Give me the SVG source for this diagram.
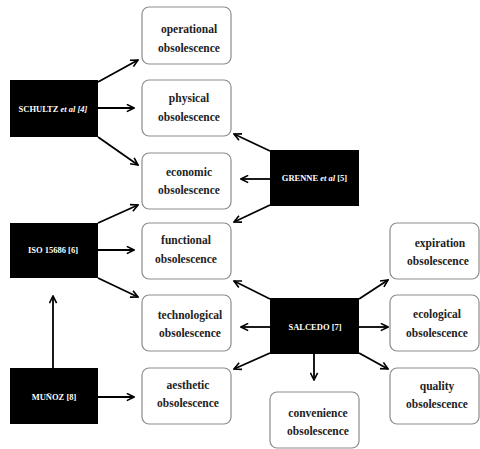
<svg xmlns="http://www.w3.org/2000/svg" width="480" height="449" viewBox="0 0 480 449">
<defs>
<style>
.bk{fill:#000}
.wb{fill:#fff;stroke:#8c8c8c;stroke-width:1.2}
.bt{font-family:"Liberation Serif","Times New Roman",serif;font-weight:bold;font-size:8.5px;fill:#fff;text-anchor:middle}
.wt{font-family:"Liberation Serif","Times New Roman",serif;font-weight:bold;font-size:11.5px;fill:#222;text-anchor:middle}
.c line{stroke:#000;stroke-width:1.8;marker-end:url(#a)}
</style>
<marker id="a" viewBox="0 0 10 10" refX="9" refY="5" markerWidth="5" markerHeight="5" orient="auto" markerUnits="strokeWidth">
<path d="M1,1 L9,5 L1,9" fill="none" stroke="#000" stroke-width="1.8"/>
</marker>
</defs>
<rect width="480" height="449" fill="#fff"/>
<g class="c">
<line x1="98" y1="82" x2="138" y2="60"/>
<line x1="98" y1="108" x2="134" y2="108"/>
<line x1="98" y1="137" x2="138" y2="165"/>
<line x1="98" y1="223" x2="138" y2="205"/>
<line x1="98" y1="250" x2="134" y2="250"/>
<line x1="98" y1="278" x2="138" y2="297"/>
<line x1="53" y1="368" x2="53" y2="296"/>
<line x1="98" y1="397" x2="134" y2="397"/>
<line x1="270" y1="151" x2="234" y2="134"/>
<line x1="270" y1="179" x2="241" y2="179"/>
<line x1="270" y1="205" x2="234" y2="222"/>
<line x1="270" y1="299" x2="234" y2="281"/>
<line x1="270" y1="327" x2="241" y2="327"/>
<line x1="270" y1="353" x2="234" y2="369"/>
<line x1="359" y1="299" x2="388" y2="280"/>
<line x1="359" y1="327" x2="388" y2="327"/>
<line x1="359" y1="353" x2="388" y2="369"/>
<line x1="314" y1="354" x2="314" y2="380"/>
</g>
<g id="schultz"><rect class="bk" x="10" y="80" width="88" height="57"/><text class="bt" x="53" y="112">SCHULTZ <tspan font-style="italic">et al [4]</tspan></text></g>
<g id="iso"><rect class="bk" x="10" y="223" width="88" height="55"/><text class="bt" x="53" y="253">ISO 15686 [6]</text></g>
<g id="munoz"><rect class="bk" x="10" y="368" width="88" height="56"/><text class="bt" x="54" y="400">MUÑOZ [8]</text></g>
<g id="grenne"><rect class="bk" x="270" y="150" width="89" height="56"/><text class="bt" x="314.5" y="181">GRENNE <tspan font-style="italic">et al</tspan> [5]</text></g>
<g id="salcedo"><rect class="bk" x="270" y="298" width="89" height="56"/><text class="bt" x="315" y="330">SALCEDO [7]</text></g>
<g id="operational"><rect class="wb" x="142" y="7" width="89" height="57" rx="7"/><text class="wt" x="189" y="33">operational</text><text class="wt" x="189" y="52">obsolescence</text></g>
<g id="physical"><rect class="wb" x="142" y="80" width="89" height="56" rx="7"/><text class="wt" x="189" y="102">physical</text><text class="wt" x="189" y="121">obsolescence</text></g>
<g id="economic"><rect class="wb" x="142" y="153" width="89" height="56" rx="7"/><text class="wt" x="189" y="176">economic</text><text class="wt" x="189" y="194">obsolescence</text></g>
<g id="functional"><rect class="wb" x="142" y="223" width="89" height="56" rx="7"/><text class="wt" x="186" y="244">functional</text><text class="wt" x="186" y="263">obsolescence</text></g>
<g id="technological"><rect class="wb" x="142" y="295" width="89" height="56" rx="7"/><text class="wt" x="190" y="319">technological</text><text class="wt" x="190" y="337">obsolescence</text></g>
<g id="aesthetic"><rect class="wb" x="142" y="368" width="89" height="56" rx="7"/><text class="wt" x="188" y="389">aesthetic</text><text class="wt" x="188" y="407">obsolescence</text></g>
<g id="expiration"><rect class="wb" x="390" y="223" width="89" height="56" rx="7"/><text class="wt" x="440" y="247">expiration</text><text class="wt" x="438" y="265">obsolescence</text></g>
<g id="ecological"><rect class="wb" x="390" y="295" width="89" height="56" rx="7"/><text class="wt" x="437" y="318">ecological</text><text class="wt" x="437" y="337">obsolescence</text></g>
<g id="quality"><rect class="wb" x="390" y="368" width="89" height="56" rx="7"/><text class="wt" x="437" y="390">quality</text><text class="wt" x="437" y="408">obsolescence</text></g>
<g id="convenience"><rect class="wb" x="270" y="392" width="89" height="56" rx="7"/><text class="wt" x="318" y="417">convenience</text><text class="wt" x="318" y="435">obsolescence</text></g>
</svg>
